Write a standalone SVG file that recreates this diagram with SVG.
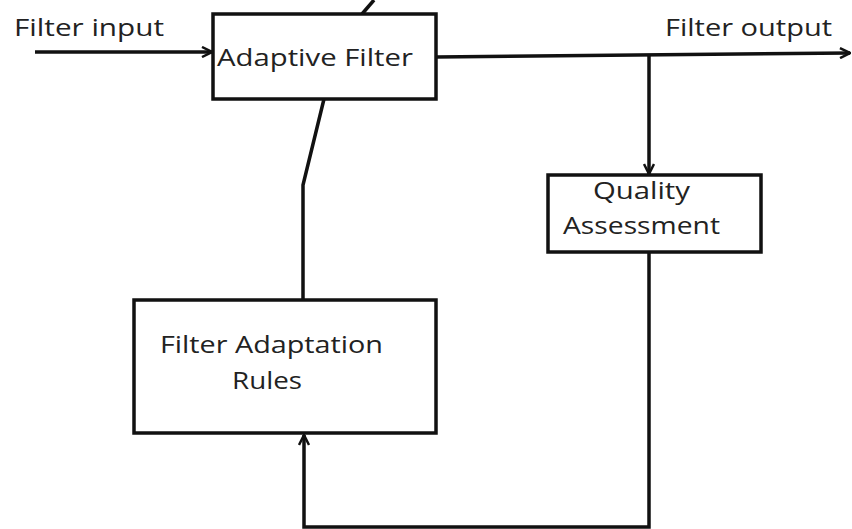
<svg xmlns="http://www.w3.org/2000/svg" width="852" height="529" viewBox="0 0 852 529">
<style>
.box{fill:#fff;stroke:#111;stroke-width:3.5}
.ln{fill:none;stroke:#111;stroke-width:3.5}
text{font-family:"Open Sans","Liberation Sans",sans-serif;font-size:24px;fill:#222}
</style>
<defs>
<marker id="ah" viewBox="0 0 12 12" refX="11" refY="6" markerWidth="12" markerHeight="12" markerUnits="userSpaceOnUse" orient="auto">
<path d="M1,1 L11,6 L1,11" fill="none" stroke="#111" stroke-width="2.5"/>
</marker>
</defs>
<rect width="852" height="529" fill="#fff"/>
<g id="connectors">
<line class="ln" x1="362" y1="14" x2="374" y2="0"/>
<line class="ln" x1="35" y1="52" x2="212" y2="52" marker-end="url(#ah)"/>
<line class="ln" x1="436" y1="57" x2="850" y2="53" marker-end="url(#ah)"/>
<line class="ln" x1="649" y1="55" x2="649" y2="174" marker-end="url(#ah)"/>
<polyline class="ln" points="649,252 649,527 304,527 304,435" marker-end="url(#ah)"/>
<polyline class="ln" points="303,300 303,185 324,99"/>
</g>
<g id="label-input"><text x="14" y="36" textLength="150" lengthAdjust="spacingAndGlyphs">Filter input</text></g>
<g id="label-output"><text x="665" y="36" textLength="167" lengthAdjust="spacingAndGlyphs">Filter output</text></g>
<g id="adaptive-filter">
<rect class="box" x="213" y="14" width="223" height="85"/>
<text x="217" y="66" font-size="26" textLength="196" lengthAdjust="spacingAndGlyphs">Adaptive Filter</text>
</g>
<g id="quality-assessment">
<rect class="box" x="548" y="175" width="213" height="77"/>
<text x="593" y="199" textLength="97" lengthAdjust="spacingAndGlyphs">Quality</text>
<text x="563" y="234" textLength="157" lengthAdjust="spacingAndGlyphs">Assessment</text>
</g>
<g id="filter-adaptation-rules">
<rect class="box" x="134" y="300" width="302" height="133"/>
<text x="160" y="353" textLength="223" lengthAdjust="spacingAndGlyphs">Filter Adaptation</text>
<text x="232" y="389" textLength="70" lengthAdjust="spacingAndGlyphs">Rules</text>
</g>
</svg>
